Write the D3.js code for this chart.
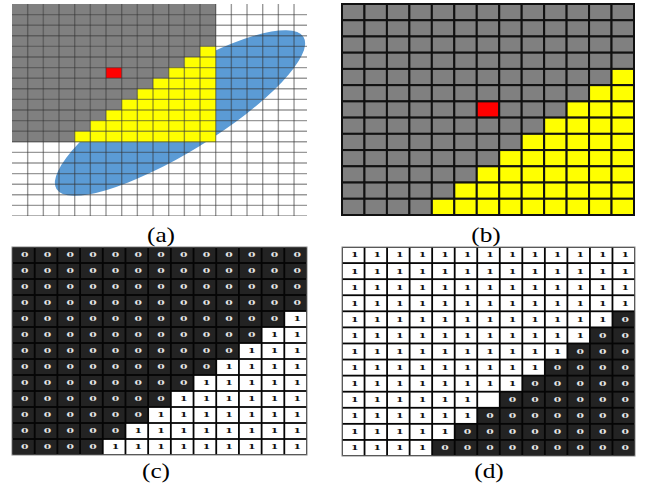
<!DOCTYPE html>
<meta charset="utf-8">
<style>
  body { margin: 0; background: #fff; }
  svg { display: block; }
</style>
<svg width="648" height="490"></svg>
<script src="https://d3js.org/d3.v7.min.js"></script>
<script>
// 13x13 window, row r: first column that is "1" (13 = none)
var stairStart = [13, 13, 13, 13, 12, 11, 10, 9, 8, 7, 6, 5, 4]
var gridSize = 13
var redCell = { row: 6, col: 6 }
// panel (a) draws the window on a bigger image grid
var imageCols = 19
var imageRows = 20
// one cell of (d) that carries no digit
var blankCell = { row: 9, col: 6 }
var labels = ['(a)', '(b)', '(c)', '(d)']

var svg = d3.select('svg')

var cells = []
d3.range(gridSize).forEach(function (r) {
  d3.range(gridSize).forEach(function (c) {
    cells.push({ row: r, col: c, on: c >= stairStart[r] ? 1 : 0 })
  })
})

// ---------- panel (a) ----------
var ax = d3.scaleLinear().domain([0, imageCols]).range([12, 309.7])
var ay = d3.scaleLinear().domain([0, imageRows]).range([4, 216])

svg.append('clipPath').attr('id', 'clipA')
  .append('rect').attr('x', 12).attr('y', 4).attr('width', 295).attr('height', 212)

var pa = svg.append('g').attr('clip-path', 'url(#clipA)')

pa.append('rect').attr('x', 12).attr('y', 4).attr('width', 295).attr('height', 212).attr('fill', '#fff')

pa.append('ellipse')
  .attr('cx', 180).attr('cy', 113)
  .attr('rx', 145).attr('ry', 38.5)
  .attr('transform', 'rotate(-31.6,180,113)')
  .attr('fill', '#5b9bd5')

pa.selectAll('rect.cell')
  .data(cells)
  .enter().append('rect')
  .attr('class', 'cell')
  .attr('x', function (d) { return ax(d.col) })
  .attr('y', function (d) { return ay(d.row) })
  .attr('width', ax(1) - ax(0) + 0.3)
  .attr('height', ay(1) - ay(0) + 0.3)
  .attr('fill', function (d) {
    if (d.row === redCell.row && d.col === redCell.col) return '#ff0000'
    return d.on ? '#ffff00' : '#808080'
  })

pa.selectAll('line.v')
  .data(d3.range(1, imageCols + 1))
  .enter().append('line')
  .attr('x1', function (d) { return ax(d) }).attr('x2', function (d) { return ax(d) })
  .attr('y1', 4).attr('y2', 216)
  .attr('stroke', '#333').attr('stroke-opacity', 0.5).attr('stroke-width', 1.4)

pa.selectAll('line.h')
  .data(d3.range(1, imageRows + 1))
  .enter().append('line')
  .attr('y1', function (d) { return ay(d) }).attr('y2', function (d) { return ay(d) })
  .attr('x1', 12).attr('x2', 307)
  .attr('stroke', '#333').attr('stroke-opacity', 0.5).attr('stroke-width', 1.4)

// ---------- panel (b) ----------
var bx = d3.scaleLinear().domain([0, gridSize]).range([342, 634])
var by = d3.scaleLinear().domain([0, gridSize]).range([4, 215])
var pb = svg.append('g')

pb.selectAll('rect')
  .data(cells)
  .enter().append('rect')
  .attr('x', function (d) { return bx(d.col) })
  .attr('y', function (d) { return by(d.row) })
  .attr('width', bx(1) - bx(0))
  .attr('height', by(1) - by(0))
  .attr('fill', function (d) {
    if (d.row === redCell.row && d.col === redCell.col) return '#ff0000'
    return d.on ? '#ffff00' : '#808080'
  })
  .attr('stroke', '#111').attr('stroke-width', 2)

// ---------- panels (c) and (d) ----------
function binaryPanel(x0, x1, y0, y1, invert) {
  var x = d3.scaleLinear().domain([0, gridSize]).range([x0, x1])
  var y = d3.scaleLinear().domain([0, gridSize]).range([y0, y1])
  var g = svg.append('g')
  g.append('rect').attr('x', x0).attr('y', y0)
    .attr('width', x1 - x0).attr('height', y1 - y0).attr('fill', '#050505')
    .attr('stroke', '#888').attr('stroke-width', 1)

  var cell = g.selectAll('g.c')
    .data(cells)
    .enter().append('g')
    .attr('class', 'c')

  function val(d) { return invert ? 1 - d.on : d.on }

  cell.append('rect')
    .attr('x', function (d) { return x(d.col) + 0.9 })
    .attr('y', function (d) { return y(d.row) + 0.9 })
    .attr('width', x(1) - x(0) - 1.8)
    .attr('height', y(1) - y(0) - 1.8)
    .attr('fill', function (d) { return val(d) ? '#fff' : '#232323' })

  // digits are wide and short in the figure, so stretch them a little
  cell.filter(function (d) {
    return !(invert && d.row === blankCell.row && d.col === blankCell.col)
  })
    .append('text')
    .attr('transform', function (d) {
      return 'translate(' + (x(d.col + 0.5) + 1.5) + ',' + y(d.row + 0.5) + ') scale(1.35,0.85)'
    })
    .attr('dy', '0.35em')
    .attr('text-anchor', 'middle')
    .attr('font-family', 'DejaVu Serif')
    .attr('font-weight', 'bold')
    .attr('font-size', 8)
    .attr('fill', function (d) { return val(d) ? '#111' : '#e6e6e6' })
    .text(function (d) { return val(d) })
}

binaryPanel(12, 307, 247, 455, false)
binaryPanel(342, 635, 247, 456, true)

// ---------- labels ----------
var labelPos = [[161, 242], [486, 242], [156, 478], [489, 478]]
svg.selectAll('text.label')
  .data(labels)
  .enter().append('text')
  .attr('class', 'label')
  .attr('transform', function (d, i) {
    return 'translate(' + labelPos[i][0] + ',' + labelPos[i][1] + ') scale(1.15,1)'
  })
  .attr('text-anchor', 'middle')
  .attr('font-family', 'Liberation Serif')
  .attr('font-size', 22)
  .attr('fill', '#000')
  .text(function (d) { return d })
</script>
